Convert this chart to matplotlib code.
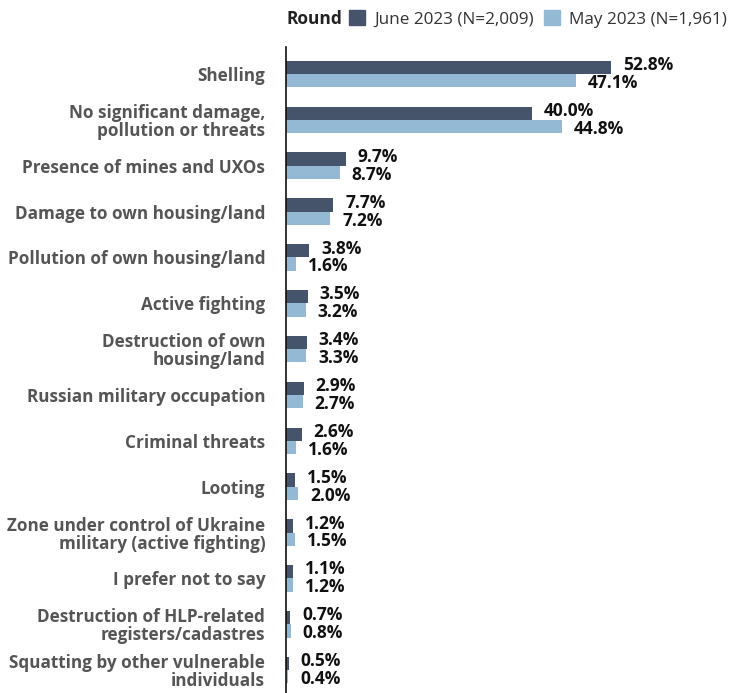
import matplotlib.pyplot as plt
import numpy as np
from matplotlib.patches import Patch

categories = [
    "Shelling",
    "No significant damage,\npollution or threats",
    "Presence of mines and UXOs",
    "Damage to own housing/land",
    "Pollution of own housing/land",
    "Active fighting",
    "Destruction of own\nhousing/land",
    "Russian military occupation",
    "Criminal threats",
    "Looting",
    "Zone under control of Ukraine\nmilitary (active fighting)",
    "I prefer not to say",
    "Destruction of HLP-related\nregisters/cadastres",
    "Squatting by other vulnerable\nindividuals",
]
june = [52.8, 40.0, 9.7, 7.7, 3.8, 3.5, 3.4, 2.9, 2.6, 1.5, 1.2, 1.1, 0.7, 0.5]
may = [47.1, 44.8, 8.7, 7.2, 1.6, 3.2, 3.3, 2.7, 1.6, 2.0, 1.5, 1.2, 0.8, 0.4]
series_names = ["June 2023 (N=2,009)", "May 2023 (N=1,961)"]

dark = "#46546b"
light = "#94b9d5"
plt.rcParams['font.family'] = ["Open Sans", "DejaVu Sans"]

fig = plt.figure(figsize=(7.3, 6.93), dpi=100)
ax = fig.add_axes([286 / 730, 0, 1 - 286 / 730 - 0.045, 1 - 47 / 693])

y = np.arange(len(categories))
h = 0.29
ax.barh(y - h / 2, june, height=h, color=dark)
ax.barh(y + h / 2, may, height=h, color=light)

# value labels, June above / May below
for i in range(len(categories)):
    ax.text(june[i] + 1.9, y[i] - h / 2 - 0.05, f"{june[i]:.1f}%", va="center", ha="left",
            fontsize=12.5, fontweight="bold", color="#111111")
    ax.text(may[i] + 1.9, y[i] + h / 2 + 0.05, f"{may[i]:.1f}%", va="center", ha="left",
            fontsize=12.5, fontweight="bold", color="#111111")

ax.set_ylim(13.5, -0.59)
ax.set_xlim(0, 66.8)
ax.set_yticks(y)
ax.set_yticklabels(categories, fontsize=12.3, fontweight="bold", color="#555555",
                   linespacing=1.0)
ax.tick_params(axis="y", length=0, pad=15)
ax.set_xticks([])
for s in ["top", "right", "bottom"]:
    ax.spines[s].set_visible(False)
ax.spines["left"].set_color("#111111")
ax.spines["left"].set_linewidth(1.2)

fig.text(286 / 730, 1 - 19 / 693, "Round", fontsize=12.5, fontweight="bold", color="#222222",
         va="center", ha="left")
handles = [Patch(color=dark), Patch(color=light)]
fig.legend(handles, series_names, loc="center left", bbox_to_anchor=(349 / 730, 1 - 19 / 693),
           ncol=2, frameon=False, fontsize=12.3, handlelength=0.95, handleheight=0.95,
           handletextpad=0.55, columnspacing=0.55, borderaxespad=0, borderpad=0,
           labelcolor="#333333")

fig.savefig("out.png", dpi=100)
